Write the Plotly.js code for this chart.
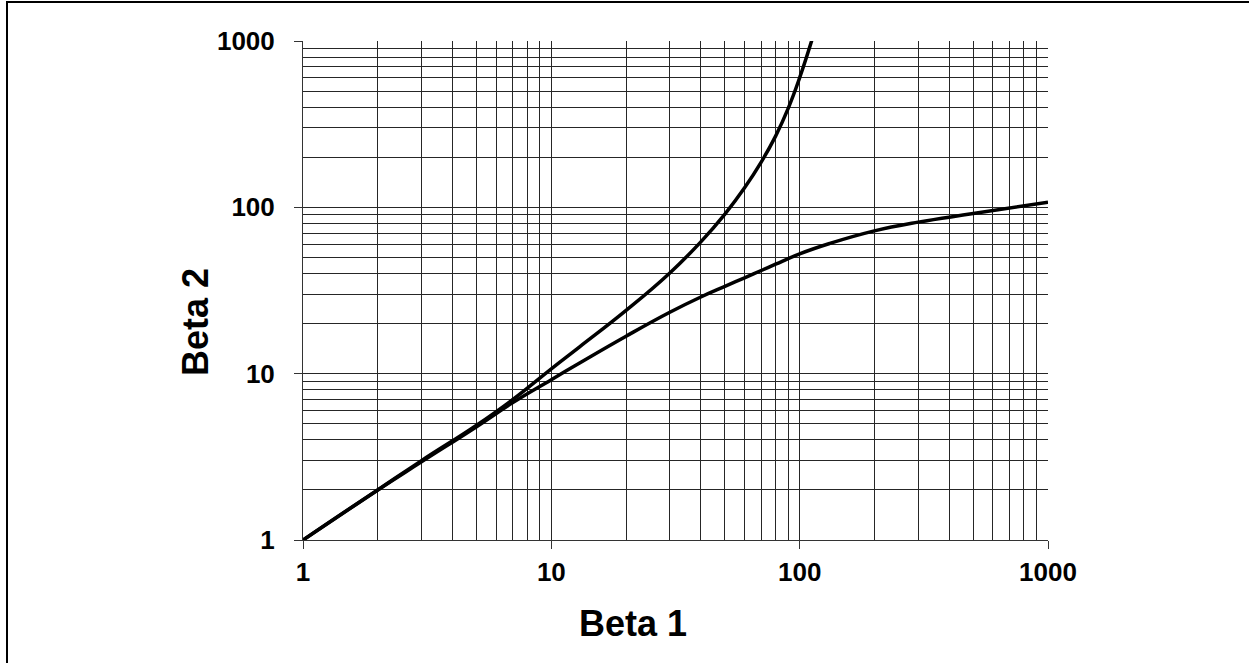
<!DOCTYPE html>
<html>
<head>
<meta charset="utf-8">
<script src="https://cdn.plot.ly/plotly-3.0.1.min.js"></script>
<style>
  html, body { margin: 0; padding: 0; background: #fff; overflow: hidden; }
  #chart { width: 1249px; height: 663px; }
  #frame { position: absolute; left: 6px; top: 1px; width: 2000px; height: 2000px;
           border-left: 2px solid #000; border-top: 2px solid #000; pointer-events: none; }
</style>
</head>
<body>
<div id="chart"></div>
<div id="frame"></div>
<script>
// Curve A (lower branch)
const beta1A = [1, 2, 3, 5, 7, 10, 13, 20, 30, 40, 50, 60, 70, 80, 100, 132, 198, 300, 500, 1000];
const beta2A = [1, 2, 2.95, 4.8, 6.7, 9.2, 11.6, 16.8, 23.4, 28.9, 33.5, 37.7, 41.7, 45.5, 52.5, 60.6, 71.9, 81.5, 91.7, 107.5];
// Curve B (upper branch)
const beta1B = [1, 2, 3, 5, 7, 10, 13, 20, 30, 40, 50, 60, 70, 80, 90, 100, 112];
const beta2B = [1, 2, 3, 4.9, 7, 10.7, 14.5, 24, 40.3, 62, 91, 131, 187, 268, 395, 602, 1014];

const tickValues = [1, 10, 100, 1000];
const tickLabels = ['1', '10', '100', '1000'];
const xTitle = 'Beta 1';
const yTitle = 'Beta 2';

const font = 'Liberation Sans, Arial, sans-serif';
const gridColor = '#262626';

const lineStyle = { color: '#000', width: 3.5, shape: 'spline', smoothing: 1.3 };

const traces = [
  { x: beta1A, y: beta2A, type: 'scatter', mode: 'lines', line: lineStyle, hoverinfo: 'x+y' },
  { x: beta1B, y: beta2B, type: 'scatter', mode: 'lines', line: lineStyle, hoverinfo: 'x+y' }
];

const axisCommon = {
  type: 'log',
  range: [0, 3],
  tickmode: 'array',
  tickvals: tickValues,
  ticktext: tickLabels,
  ticks: 'outside',
  ticklen: 8,
  tickwidth: 1,
  tickcolor: '#333',
  showgrid: true,
  gridcolor: gridColor,
  gridwidth: 1,
  showline: true,
  linecolor: '#333',
  linewidth: 1,
  zeroline: false,
  tickfont: { family: font, size: 26, color: '#000', weight: 'bold' },
  minor: { dtick: 'D1', showgrid: true, gridcolor: gridColor, gridwidth: 1, ticks: '' }
};

const layout = {
  width: 1249,
  height: 663,
  margin: { l: 303, r: 201, t: 41, b: 123, pad: 0 },
  paper_bgcolor: '#fff',
  plot_bgcolor: '#fff',
  showlegend: false,
  xaxis: Object.assign({}, axisCommon, { ticklabelstandoff: 1 }),
  yaxis: Object.assign({}, axisCommon, { ticklabelstandoff: 14 }),
  annotations: [
    { text: '<b>' + xTitle + '</b>', xref: 'paper', yref: 'paper',
      x: (633 - 303) / 745, y: (540 - 623) / 499, xanchor: 'center', yanchor: 'middle',
      showarrow: false, font: { family: font, size: 36, color: '#000' } },
    { text: '<b>' + yTitle + '</b>', xref: 'paper', yref: 'paper',
      x: (195 - 303) / 745, y: (540 - 322) / 499, xanchor: 'center', yanchor: 'middle',
      textangle: -90, showarrow: false, font: { family: font, size: 36, color: '#000' } }
  ]
};

Plotly.newPlot('chart', traces, layout, { staticPlot: true });
</script>
</body>
</html>
